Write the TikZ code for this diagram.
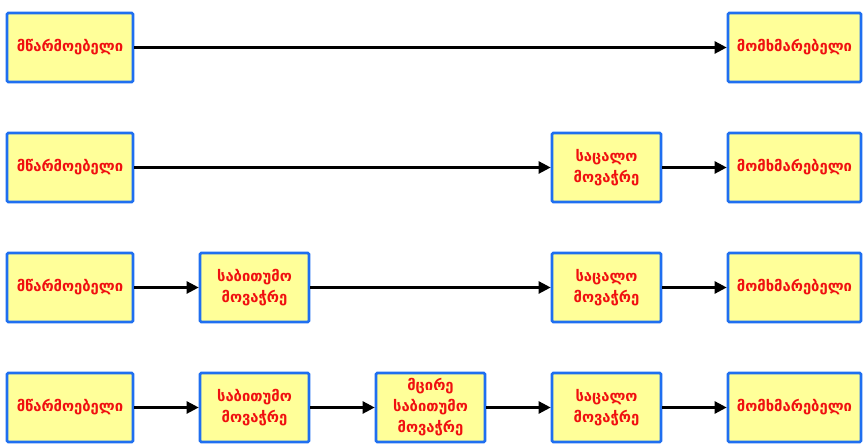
\documentclass[tikz,border=0pt]{standalone}
\usepackage{fontspec}
\newfontfamily\geofont{DejaVu Sans}
\usetikzlibrary{arrows.meta}
\definecolor{boxblue}{HTML}{1F6FF0}
\definecolor{boxfill}{HTML}{FFFF99}
\definecolor{txtred}{HTML}{F01010}
\begin{document}
\begin{tikzpicture}[x=1pt,y=1pt,
  stage/.style={draw=boxblue, line width=2.6pt, fill=boxfill, rounded corners=1.2pt,
    minimum height=69pt, inner sep=2pt, align=center,
    font=\geofont\bfseries\fontsize{14.8}{21}\selectfont, text=txtred},
  endw/.style={stage, minimum width=126pt},
  endr/.style={stage, minimum width=133pt},
  midw/.style={stage, minimum width=109pt},
  flow/.style={draw=black, line width=2.4pt, -{Triangle[length=12pt,width=12pt]}}]
\useasboundingbox (0,0) rectangle (863,446);
% row 1: producer to consumer directly
\node[endw] (p1) at (70,398.5) {მწარმოებელი};
\node[endr] (c1) at (794.5,398.5) {მომხმარებელი};
\draw[flow] (p1) -- (c1);
% row 2: through a retailer
\node[endw] (p2) at (70,278.5) {მწარმოებელი};
\node[midw] (r2) at (606.5,278.5) {საცალო\\მოვაჭრე};
\node[endr] (c2) at (794.5,278.5) {მომხმარებელი};
\draw[flow] (p2) -- (r2);
\draw[flow] (r2) -- (c2);
% row 3: wholesaler and retailer
\node[endw] (p3) at (70,158.5) {მწარმოებელი};
\node[midw] (w3) at (254.5,158.5) {საბითუმო\\მოვაჭრე};
\node[midw] (r3) at (606.5,158.5) {საცალო\\მოვაჭრე};
\node[endr] (c3) at (794.5,158.5) {მომხმარებელი};
\draw[flow] (p3) -- (w3);
\draw[flow] (w3) -- (r3);
\draw[flow] (r3) -- (c3);
% row 4: wholesaler, small wholesaler and retailer
\node[endw] (p4) at (70,38.5) {მწარმოებელი};
\node[midw] (w4) at (254.5,38.5) {საბითუმო\\მოვაჭრე};
\node[midw] (s4) at (430.5,38.5) {მცირე\\საბითუმო\\მოვაჭრე};
\node[midw] (r4) at (606.5,38.5) {საცალო\\მოვაჭრე};
\node[endr] (c4) at (794.5,38.5) {მომხმარებელი};
\draw[flow] (p4) -- (w4);
\draw[flow] (w4) -- (s4);
\draw[flow] (s4) -- (r4);
\draw[flow] (r4) -- (c4);
\end{tikzpicture}
\end{document}
